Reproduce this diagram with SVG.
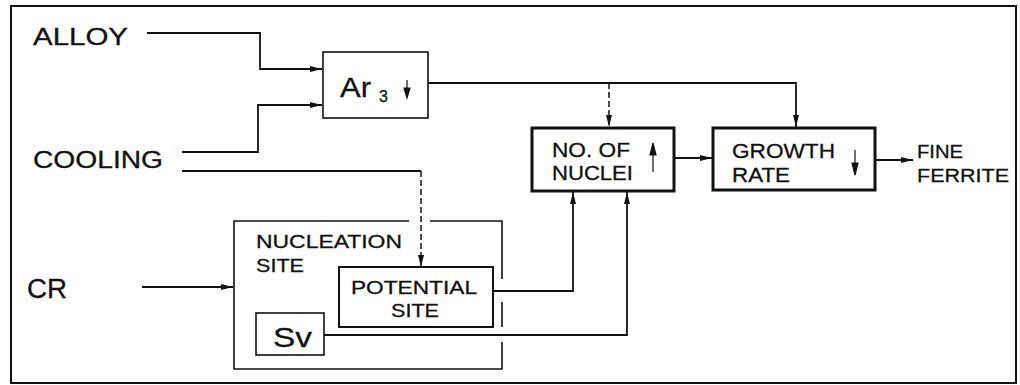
<svg xmlns="http://www.w3.org/2000/svg" width="1020" height="385" viewBox="0 0 1020 385">
<defs>
<marker id="ah" markerUnits="userSpaceOnUse" markerWidth="14" markerHeight="10" refX="12" refY="5" orient="auto">
<path d="M0,2 L12,5 L0,8 Z" fill="#111"/>
</marker>
<style>
.t{font-family:"Liberation Sans",Arial,sans-serif;fill:#111;stroke:#111;stroke-width:0.3}
.box{fill:none;stroke:#111;stroke-width:1.6}
.thick{fill:none;stroke:#111;stroke-width:3}
.c{fill:none;stroke:#111;stroke-width:1.8}
.d{fill:none;stroke:#111;stroke-width:1.5;stroke-dasharray:6 3}
.g{fill:none;stroke:#111;stroke-width:2}
.ag{fill:#111;stroke:#111;stroke-width:1.2}
</style>
</defs>
<rect width="1020" height="385" fill="#fff"/>
<rect x="11" y="6" width="1005" height="377" fill="none" stroke="#111" stroke-width="2"/>

<g id="alloy"><text class="t" x="33" y="45" font-size="23" textLength="95" lengthAdjust="spacingAndGlyphs">ALLOY</text></g>
<g id="cooling"><text class="t" x="33" y="168" font-size="23" textLength="130" lengthAdjust="spacingAndGlyphs">COOLING</text></g>
<g id="cr"><text class="t" x="27" y="298" font-size="27" textLength="40" lengthAdjust="spacingAndGlyphs">CR</text></g>

<g id="ar3">
<rect class="box" x="323" y="52" width="105" height="66"/>
<text class="t" x="340" y="97" font-size="27" textLength="31" lengthAdjust="spacingAndGlyphs">Ar</text>
<text class="t" x="379" y="102" font-size="16">3</text>
<path class="ag" d="M407,80 V90 M404,88 L410,88 L407,98 Z"/>
</g>

<g id="nuclei">
<rect class="thick" x="532" y="128" width="142" height="63"/>
<text class="t" x="552" y="157" font-size="20" textLength="78" lengthAdjust="spacingAndGlyphs">NO. OF</text>
<text class="t" x="552" y="180" font-size="20" textLength="81" lengthAdjust="spacingAndGlyphs">NUCLEI</text>
<path class="ag" d="M653,172 V153 M650,155 L656,155 L653,143 Z"/>
</g>

<g id="growth">
<rect class="thick" x="713" y="128" width="162" height="62"/>
<text class="t" x="732" y="158" font-size="21" textLength="103" lengthAdjust="spacingAndGlyphs">GROWTH</text>
<text class="t" x="732" y="182" font-size="21" textLength="58" lengthAdjust="spacingAndGlyphs">RATE</text>
<path class="ag" d="M855,150 V165 M852,163 L858,163 L855,175 Z"/>
</g>

<g id="fine">
<text class="t" x="917" y="158" font-size="18" textLength="46" lengthAdjust="spacingAndGlyphs">FINE</text>
<text class="t" x="917" y="182" font-size="18" textLength="92" lengthAdjust="spacingAndGlyphs">FERRITE</text>
</g>

<g id="nucleation">
<path class="box" d="M409,221 H234 V369 H502 V342 M502,327 V302 M502,279 V221 H430"/>
<text class="t" x="256" y="248" font-size="19" textLength="146" lengthAdjust="spacingAndGlyphs">NUCLEATION</text>
<text class="t" x="256" y="272" font-size="19" textLength="48" lengthAdjust="spacingAndGlyphs">SITE</text>
</g>

<g id="potential">
<rect class="g" x="339" y="267" width="154" height="60"/>
<text class="t" x="351" y="294" font-size="19" textLength="126" lengthAdjust="spacingAndGlyphs">POTENTIAL</text>
<text class="t" x="391" y="317" font-size="19" textLength="48" lengthAdjust="spacingAndGlyphs">SITE</text>
</g>

<g id="sv">
<rect class="box" x="256" y="313" width="68" height="42"/>
<text class="t" x="273" y="347" font-size="28" textLength="39" lengthAdjust="spacingAndGlyphs">Sv</text>
</g>

<g id="connectors">
<path class="c" d="M147,33 H260 V69 H322" marker-end="url(#ah)"/>
<path class="c" d="M182,152 H258 V105 H322" marker-end="url(#ah)"/>
<path class="c" d="M182,171 H421"/>
<path class="d" d="M421,171 V267" marker-end="url(#ah)"/>
<path class="c" d="M428,83 H796 V127" marker-end="url(#ah)"/>
<path class="d" d="M609,83 V127" marker-end="url(#ah)"/>
<path class="c" d="M674,158 H712" marker-end="url(#ah)"/>
<path class="c" d="M876,160 H913" marker-end="url(#ah)"/>
<path class="c" d="M142,287 H233" marker-end="url(#ah)"/>
<path class="c" d="M493,291 H573 V192" marker-end="url(#ah)"/>
<path class="c" d="M324,335 H627 V192" marker-end="url(#ah)"/>
</g>
</svg>
